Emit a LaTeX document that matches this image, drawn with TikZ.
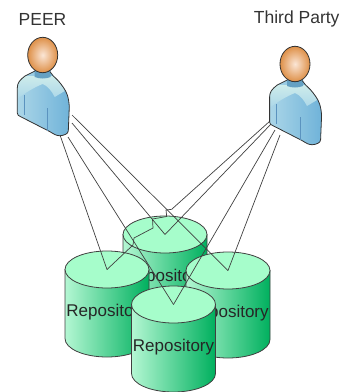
\documentclass[tikz,border=0pt]{standalone}
\usepackage{fontspec}
\setmainfont{Liberation Sans}
\usetikzlibrary{shapes,fit,arrows}
\definecolor{repoTop}{HTML}{A6FDCB}
\definecolor{repoLight}{HTML}{B4F7D3}
\definecolor{repoDark}{HTML}{00B05E}
\definecolor{edgeGray}{HTML}{404040}
\definecolor{skinDark}{HTML}{DE9048}
\definecolor{skinLight}{HTML}{FBE6D6}
\definecolor{shirtLight}{HTML}{ABD6E8}
\definecolor{shirtDark}{HTML}{70B3D9}
\definecolor{shirtTop}{HTML}{CDECEB}
\definecolor{shirtLine}{HTML}{5B93BF}
\tikzstyle{title} = [text=black!80, font=\fontsize{17.5}{20}\selectfont]
\tikzstyle{link} = [draw=edgeGray, line width=0.7pt]
\tikzstyle{repoline} = [draw=edgeGray, line width=0.8pt]
\tikzset{
  repository/.pic = {
    \path [repoline, left color=repoLight, right color=repoDark]
      (-42,0) -- (-42,69) arc [start angle=180, end angle=360, x radius=42pt, y radius=18.5pt] -- (42,0) -- cycle;
    \path [repoline, fill=repoTop] (0,0) ellipse [x radius=42pt, y radius=18.5pt];
    \node [text=black!85, font=\fontsize{17}{20}\selectfont, inner sep=0pt] (-text) at (0,43) {Repository};
  },
  person/.pic = {
    % body
    \path [left color=shirtLight, right color=shirtDark]
      (-7.7,16) -- (-17.7,21) .. controls (-23,25) and (-25.4,28) .. (-25.4,33)
      -- (-25.4,58) .. controls (-25.4,60) and (-24,61) .. (-22,61.7)
      -- (7.3,76.7) .. controls (11,79) and (14,81) .. (17.3,80.7)
      .. controls (21,80.5) and (25.6,79) .. (25.6,75.7)
      -- (26.6,51.7) .. controls (26,42) and (24,37) .. (20.6,32.3)
      .. controls (17,27) and (14,24) .. (10.6,21) -- (7.3,16.7) -- cycle;
    % shoulder
    \path [top color=shirtTop, bottom color=shirtLight]
      (-17.7,21) -- (10.6,21) .. controls (14,24) and (17,27) .. (20.6,32.3)
      -- (22,36) -- (12,42) .. controls (9,36) and (5,31) .. (0,29)
      .. controls (-8,32) and (-18,38) .. (-25.4,44) -- (-25.4,33)
      .. controls (-25.4,28) and (-23,25) .. (-17.7,21) -- cycle;
    % neck
    \path [fill=shirtDark!90!black] (-8,15) -- (8,15) -- (8,22) .. controls (3,24) and (-3,24) .. (-8,22) -- cycle;
    % outline
    \draw [black!80, line width=0.8pt]
      (-7.7,16) -- (-17.7,21) .. controls (-23,25) and (-25.4,28) .. (-25.4,33)
      -- (-25.4,58) .. controls (-25.4,60) and (-24,61) .. (-22,61.7)
      -- (7.3,76.7) .. controls (11,79) and (14,81) .. (17.3,80.7)
      .. controls (21,80.5) and (25.6,79) .. (25.6,75.7)
      -- (26.6,51.7) .. controls (26,42) and (24,37) .. (20.6,32.3)
      .. controls (17,27) and (14,24) .. (10.6,21) -- (7.3,16.7);
    % arm lines
    \draw [shirtLine, line width=0.8pt] (-18.7,40) -- (-18.7,60);
    \draw [shirtLine, line width=0.8pt] (5,53) -- (5,76);
    % head
    \path [draw=black!80, line width=0.8pt, inner color=skinLight, outer color=skinDark]
      (0,0) ellipse [x radius=15pt, y radius=17.7pt];
  }
}
\begin{document}
\begin{tikzpicture}[x=1pt, y=-1pt]
    \useasboundingbox (0,0) rectangle (353,392);
    \node [title] (peer) at (42.5,19) {PEER};
    \node [title] (third) at (296.7,18.5) {Third Party};
    \pic (back) at (165,234.5) {repository};
    \pic (left) at (107,269.5) {repository};
    \pic (right) at (228,270.5) {repository};
    \pic (front) at (173.5,304.5) {repository};
    \coordinate (backTip) at (165,234.5);
    \coordinate (leftTip) at (107,269.5);
    \coordinate (rightTip) at (228,270.5);
    \coordinate (frontTip) at (173.5,304.5);
    \coordinate (peerA) at (60,135);
    \coordinate (peerB) at (68,137);
    \coordinate (peerC) at (72,123);
    \coordinate (peerD) at (72,115);
    \coordinate (thirdA) at (270,121);
    \coordinate (thirdB) at (272,123);
    \coordinate (thirdC) at (275,130);
    \coordinate (thirdD) at (280,135);
    \draw [link] (peerA) -- (leftTip);
    \draw [link] (peerB) -- (frontTip);
    \draw [link] (peerC) -- (backTip);
    \draw [link] (peerD) -- (rightTip);
    % this one steps round the top of the back repository
    \draw [link] (thirdA) -- (171.7,209.3) -- (166,210) -- (166.7,216.5) -- (152.5,219) -- (153,228) -- (134,238) -- (133,245) -- (leftTip);
    \draw [link] (thirdB) -- (backTip);
    \draw [link] (thirdC) -- (frontTip);
    \draw [link] (thirdD) -- (rightTip);
    \pic (peerIcon) at (42.7,55) {person};
    \pic (thirdIcon) at (295,64) {person};
\end{tikzpicture}
\end{document}
